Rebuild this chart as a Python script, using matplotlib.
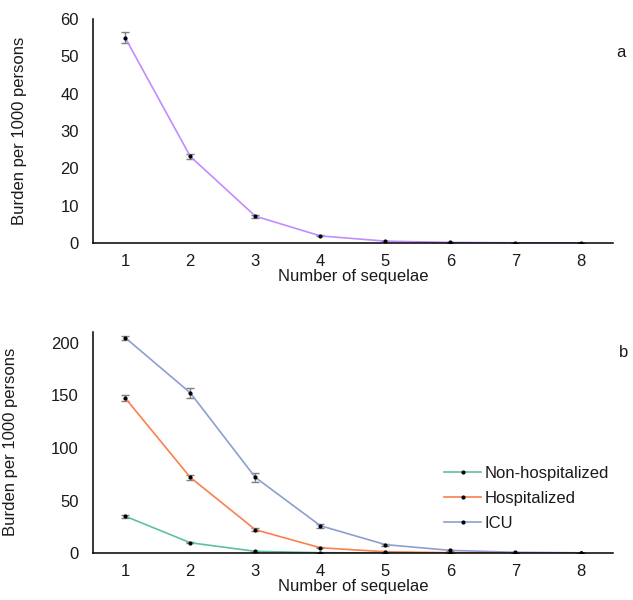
import numpy as np
import matplotlib
matplotlib.use("Agg")
import matplotlib.pyplot as plt

plt.rcParams['font.family'] = ['Liberation Sans', 'DejaVu Sans']

# Number of sequelae (categories)
sequelae = [1, 2, 3, 4, 5, 6, 7, 8]

# panel a: overall burden per 1000 persons
overall = [55.0, 23.2, 7.2, 1.9, 0.5, 0.15, 0.05, 0.02]
overall_err = [1.5, 0.7, 0.4, 0.15, 0.05, 0.02, 0.01, 0.01]

# panel b: by care setting
non_hosp = [35.0, 9.8, 1.6, 0.3, 0.1, 0.03, 0.01, 0.0]
non_hosp_err = [1.5, 0.5, 0.2, 0.1, 0.05, 0.01, 0.01, 0.0]
hosp = [147.5, 72.0, 22.2, 5.0, 1.2, 0.3, 0.1, 0.02]
hosp_err = [3.0, 2.5, 1.2, 0.6, 0.3, 0.1, 0.05, 0.02]
icu = [205.0, 152.5, 72.0, 26.0, 8.0, 2.5, 0.7, 0.2]
icu_err = [2.0, 5.0, 4.0, 2.0, 1.0, 0.8, 0.4, 0.2]

FS = 12
TXT = '#1a1a1a'

fig = plt.figure(figsize=(6.33, 6.0), dpi=100)
ax_a = fig.add_axes([0.1465, 0.595, 0.822, 0.373])
ax_b = fig.add_axes([0.1465, 0.0783, 0.822, 0.369])


def style(ax, ymax, yticks):
    for s in ['top', 'right']:
        ax.spines[s].set_visible(False)
    for s in ['left', 'bottom']:
        ax.spines[s].set_linewidth(1.1)
        ax.spines[s].set_color('black')
    ax.set_xlim(0.5, 8.5)
    ax.set_ylim(0, ymax)
    ax.set_xticks(sequelae)
    ax.set_yticks(yticks)
    ax.tick_params(length=0, labelsize=FS, colors=TXT)
    ax.tick_params(axis='y', pad=10)
    ax.tick_params(axis='x', pad=8)
    ax.set_xlabel('Number of sequelae', fontsize=FS, color=TXT, labelpad=0)
    ax.set_ylabel('Burden per 1000 persons', fontsize=FS, color=TXT, labelpad=24)


def series(ax, y, err, color, label=None):
    ax.errorbar(sequelae, y, yerr=err, color=color, lw=1.2,
                marker='o', ms=2, mfc='black', mec='black',
                ecolor='#7f7f7f', elinewidth=1, capsize=3, capthick=1,
                label=label)


series(ax_a, overall, overall_err, '#c08cff')
style(ax_a, 60, [0, 10, 20, 30, 40, 50, 60])
fig.text(0.988, 0.913, 'a', fontsize=FS, color=TXT, ha='right', va='center')

series(ax_b, non_hosp, non_hosp_err, '#5fc09f', 'Non-hospitalized')
series(ax_b, hosp, hosp_err, '#fc7f4e', 'Hospitalized')
series(ax_b, icu, icu_err, '#8d9fcf', 'ICU')
style(ax_b, 210.8, [0, 50, 100, 150, 200])
fig.text(0.993, 0.413, 'b', fontsize=FS, color=TXT, ha='right', va='center')

h, l = ax_b.get_legend_handles_labels()
h = [x[0] for x in h]
ax_b.legend(h, l, loc='upper left', bbox_to_anchor=(0.678, 0.248),
            bbox_transform=fig.transFigure, frameon=False, fontsize=FS,
            handlelength=2.2, handletextpad=0.2, labelspacing=0.58,
            labelcolor=TXT)

fig.savefig('out.png', dpi=100)
